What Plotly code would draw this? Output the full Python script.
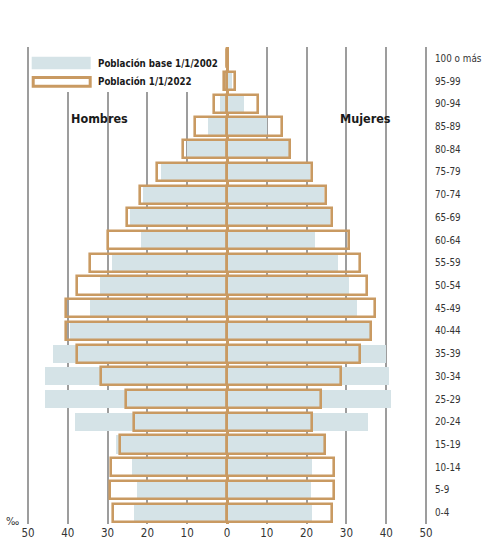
import plotly.graph_objects as go

ages = ["0-4", "5-9", "10-14", "15-19", "20-24", "25-29", "30-34", "35-39",
        "40-44", "45-49", "50-54", "55-59", "60-64", "65-69", "70-74", "75-79",
        "80-84", "85-89", "90-94", "95-99", "100 o más"]

men_2002 = [23.4, 22.7, 23.8, 27.8, 38.3, 45.7, 45.7, 43.6, 39.4, 34.5, 31.8,
            28.9, 21.5, 24.3, 21.2, 16.5, 10.0, 4.8, 1.7, 0.3, 0.05]
women_2002 = [21.3, 21.1, 21.3, 24.5, 35.3, 41.1, 40.8, 40.0, 36.0, 32.6, 30.6,
              27.9, 22.0, 25.8, 24.3, 20.8, 15.5, 10.0, 4.2, 1.3, 0.1]
men_2022 = [28.7, 29.4, 29.2, 27.0, 23.3, 25.4, 31.7, 37.8, 40.5, 40.5, 37.8,
            34.3, 30.0, 25.0, 21.8, 17.6, 11.0, 8.0, 3.2, 0.7, 0.1]
women_2022 = [26.5, 27.0, 26.8, 24.7, 21.3, 23.7, 28.7, 33.3, 36.2, 37.2, 35.1,
              33.4, 30.7, 26.5, 24.8, 21.3, 15.8, 13.7, 7.7, 1.9, 0.3]

tick_vals = [-50, -40, -30, -20, -10, 0, 10, 20, 30, 40, 50]
tick_text = ["50", "40", "30", "20", "10", "0", "10", "20", "30", "40", "50"]

label_2002 = "Población base 1/1/2002"
label_2022 = "Población 1/1/2022"

BLUE = "#d5e3e7"
TAN = "#c99a62"
GRID = "#9d9d9d"
FONT = "DejaVu Sans Condensed, Liberation Sans, sans-serif"

W, H = 483, 539
ML, MR, MT, MB = 24, 53, 47, 15
PW, PH = W - ML - MR, H - MT - MB


def px(xp):
    return (xp - ML) / PW


def py(yp):
    return (H - MB - yp) / PH


fig = go.Figure()
BW = 0.8
fig.add_trace(go.Bar(y=ages, x=[-v for v in men_2002], orientation="h",
                     marker=dict(color=BLUE, line=dict(width=0)), width=BW,
                     name=label_2002, showlegend=False))
fig.add_trace(go.Bar(y=ages, x=women_2002, orientation="h",
                     marker=dict(color=BLUE, line=dict(width=0)), width=BW,
                     name=label_2002, showlegend=False))
fig.add_trace(go.Bar(y=ages, x=[-v for v in men_2022], orientation="h",
                     marker=dict(color="rgba(0,0,0,0)", line=dict(color=TAN, width=2.6)),
                     width=BW, name=label_2022, showlegend=False))
fig.add_trace(go.Bar(y=ages, x=women_2022, orientation="h",
                     marker=dict(color="rgba(0,0,0,0)", line=dict(color=TAN, width=2.6)),
                     width=BW, name=label_2022, showlegend=False))

shapes = [
    # legend white background
    dict(type="rect", xref="paper", yref="paper", x0=px(30.5), x1=px(221), y0=py(92), y1=py(47),
         fillcolor="white", line=dict(width=0), layer="above"),
    dict(type="rect", xref="paper", yref="paper", x0=px(31.7), x1=px(90.7), y0=py(69.3), y1=py(56.7),
         fillcolor=BLUE, line=dict(width=0), layer="above"),
    dict(type="rect", xref="paper", yref="paper", x0=px(33.2), x1=px(90.2), y0=py(86.3), y1=py(77.4),
         fillcolor="white", line=dict(color=TAN, width=3), layer="above"),
]

annotations = [
    dict(text=label_2002, x=px(96), y=py(63), xref="paper", yref="paper", xanchor="left",
         yanchor="middle", showarrow=False, font=dict(family=FONT, size=9.7, color="#1a1a1a", weight="bold")),
    dict(text=label_2022, x=px(96), y=py(82), xref="paper", yref="paper", xanchor="left",
         yanchor="middle", showarrow=False, font=dict(family=FONT, size=9.7, color="#1a1a1a", weight="bold")),
    dict(text="Hombres", x=px(99.5), y=py(118), xref="paper", yref="paper", xanchor="center",
         yanchor="middle", showarrow=False, font=dict(family=FONT, size=12.5, color="#1a1a1a", weight="bold")),
    dict(text="Mujeres", x=px(365), y=py(118), xref="paper", yref="paper", xanchor="center",
         yanchor="middle", showarrow=False, font=dict(family=FONT, size=12.5, color="#1a1a1a", weight="bold")),
    dict(text="‰", x=px(12.5), y=py(521), xref="paper", yref="paper", xanchor="center",
         yanchor="middle", showarrow=False, font=dict(family=FONT, size=11, color="#333333")),
]

fig.update_layout(
    width=W, height=H,
    margin=dict(l=ML, r=MR, t=MT, b=MB, autoexpand=False),
    barmode="overlay",
    bargap=0,
    plot_bgcolor="white", paper_bgcolor="white",
    showlegend=False,
    shapes=shapes,
    annotations=annotations,
    font=dict(family=FONT, color="#333333"),
    xaxis=dict(range=[-51, 51], tickvals=tick_vals, ticktext=tick_text,
               showgrid=True, gridcolor=GRID, gridwidth=1.6,
               zeroline=True, zerolinecolor=TAN, zerolinewidth=2.6,
               showline=False, ticks="", automargin=False,
               tickfont=dict(family=FONT, size=11.5, color="#333333")),
    yaxis=dict(type="category", categoryorder="array", categoryarray=ages,
               range=[-0.5, 20.5], side="right", showgrid=False, zeroline=False,
               showline=False, ticks="", automargin=False, ticklabelstandoff=4,
               tickfont=dict(family=FONT, size=9.8, color="#333333")),
)

fig.write_html("out.html", config={"displayModeBar": False},
               post_script="document.body.style.margin='0';")
